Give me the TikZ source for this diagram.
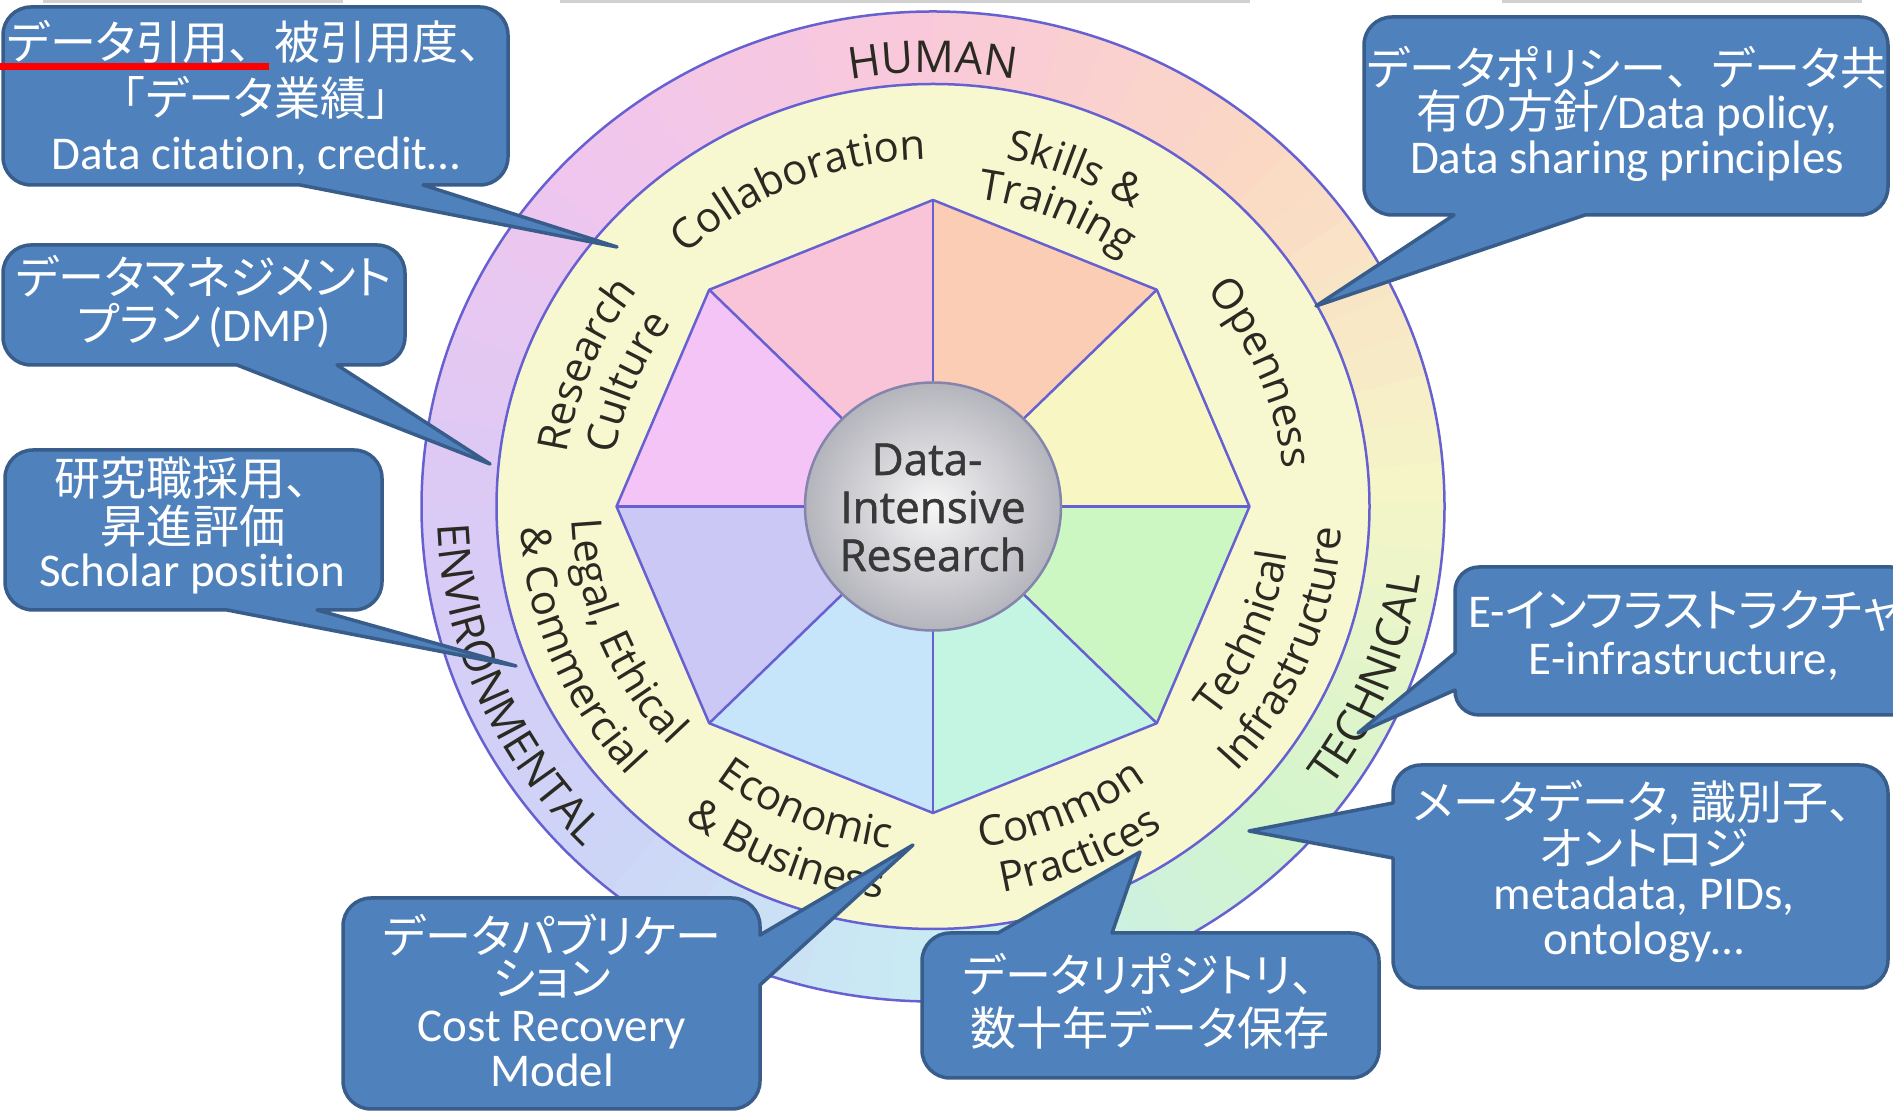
\documentclass[tikz,border=0pt]{standalone}
\usepackage{fontspec}
\setmainfont{Carlito}[Ligatures=NoCommon]
\newfontfamily\jp{Noto Sans CJK JP}[RawFeature=+palt,Scale=0.98]
\newfontfamily\jpf{Noto Sans CJK JP}[Scale=0.98]
\newfontfamily\ringfont{Open Sans}
\newfontfamily\ctrfont{Open Sans}[FakeBold=1.2]
\usetikzlibrary{decorations.text}

\definecolor{boxfill}{HTML}{4F81BD}
\definecolor{boxline}{HTML}{385D8A}
\definecolor{wheelline}{HTML}{6660D0}
\definecolor{band}{HTML}{F8F8D0}
\definecolor{labelcol}{HTML}{2A2A22}
\definecolor{ctrtext}{HTML}{383838}
\definecolor{ccin}{HTML}{F7F7F7}
\definecolor{ccout}{HTML}{B4B4BC}
\definecolor{ccrim}{HTML}{8484AC}
% outer ring colours, every 45 degrees starting at 0
\definecolor{ra}{HTML}{F6F5C8}
\definecolor{rb}{HTML}{FAD8C4}
\definecolor{rc}{HTML}{F9C8DA}
\definecolor{rd}{HTML}{F0C6EE}
\definecolor{re}{HTML}{D9CAF6}
\definecolor{rf}{HTML}{CDD5F7}
\definecolor{rg}{HTML}{C9EDF3}
\definecolor{rh}{HTML}{D2F5CC}
% octagon sectors, counter-clockwise from 0 degrees
\definecolor{sa}{HTML}{F8F7C4}
\definecolor{sb}{HTML}{FBCDB4}
\definecolor{sc}{HTML}{F9C4D8}
\definecolor{sd}{HTML}{F4C4F6}
\definecolor{se}{HTML}{CCC8F5}
\definecolor{sf}{HTML}{C6E4FA}
\definecolor{sg}{HTML}{C4F5E2}
\definecolor{sh}{HTML}{CCF7C2}

\newcommand\lblfont{\fontsize{42}{42}\ringfont\color{labelcol}}
\newcommand\capfont{\fontsize{44}{44}\ringfont\color{labelcol}}

% curved label, letters upright away from the centre (clockwise arc)
\newcommand\ringtop[3]{%
  \pgfmathsetmacro\lblrx{1.033*#2}%
  \pgfmathsetmacro\lblsa{#1+40}%
  \pgfmathsetmacro\lblea{#1-40}%
  \path[decorate,decoration={text along path,text align=center,text={#3}}]
    ({\lblsa}:{\lblrx} and {#2}) arc[start angle=\lblsa,end angle=\lblea,x radius=\lblrx,y radius=#2];}
% curved label, letters upright towards the centre (counter-clockwise arc)
\newcommand\ringbot[3]{%
  \pgfmathsetmacro\lblrx{1.033*#2}%
  \pgfmathsetmacro\lblsa{#1-40}%
  \pgfmathsetmacro\lblea{#1+40}%
  \path[decorate,decoration={text along path,text align=center,text={#3}}]
    ({\lblsa}:{\lblrx} and {#2}) arc[start angle=\lblsa,end angle=\lblea,x radius=\lblrx,y radius=#2];}

\begin{document}
\begin{tikzpicture}[x=1pt,y=1pt,
  callout/.style={fill=boxfill,draw=boxline,line width=3.5pt,line join=round},
  ctext/.style={text=white,font=\fontsize{47}{47}\selectfont,anchor=base,inner sep=0pt},
  wheel/.style={draw=wheelline,line width=2.5pt},
  ctrlbl/.style={text=ctrtext,font=\fontsize{44}{44}\ctrfont,anchor=base,inner sep=0pt},
  topline/.style={draw=black!18,line width=3pt},
  redmark/.style={draw=red,line width=7pt}]
\path[use as bounding box,clip] (0,0) rectangle (1893,1113);
\fill[white] (0,0) rectangle (1893,1113);

% ---------------- the wheel ----------------
\begin{scope}[shift={(933,606.5)}]
  \begin{scope}
    \clip (0,0) ellipse [x radius=511.5,y radius=495];
    \foreach \a/\ca/\cb in {0/ra/rb,45/rb/rc,90/rc/rd,135/rd/re,180/re/rf,225/rf/rg,270/rg/rh,315/rh/ra}{
      \foreach \i in {0,...,8}{
        \pgfmathsetmacro\mixp{100-\i*100/9}
        \pgfmathsetmacro\wa{\a+\i*5}
        \pgfmathsetmacro\wb{\a+\i*5+5.6}
        \fill[fill=\ca!\mixp!\cb] (0,0) -- (\wa:620) -- (\wb:620) -- cycle;
      }
    }
  \end{scope}
  \fill[band] (0,0) ellipse [x radius=436.5,y radius=422.5];
  \foreach \i/\c in {0/sa,1/sb,2/sc,3/sd,4/se,5/sf,6/sg,7/sh}
    \fill[fill=\c] (0,0) -- ({\i*45}:316.5 and 306.5) -- ({\i*45+45}:316.5 and 306.5) -- cycle;
  \foreach \i in {0,...,7}
    \draw[wheel] (0,0) -- ({\i*45}:316.5 and 306.5);
  \draw[wheel,line join=round] (0:316.5 and 306.5) -- (45:316.5 and 306.5) -- (90:316.5 and 306.5)
    -- (135:316.5 and 306.5) -- (180:316.5 and 306.5) -- (225:316.5 and 306.5)
    -- (270:316.5 and 306.5) -- (315:316.5 and 306.5) -- cycle;
  \draw[wheel] (0,0) ellipse [x radius=436.5,y radius=422.5];
  \draw[wheel] (0,0) ellipse [x radius=511.5,y radius=495];
  \shade[inner color=ccin,outer color=ccout] (0,0) ellipse [x radius=128,y radius=124];
  \draw[draw=ccrim,line width=2.5pt] (0,0) ellipse [x radius=128,y radius=124];

  \node[ctrlbl] (mid1) at (-6,31.5) {Data-};
  \node[ctrlbl] (mid2) at (0,-16.5) {Intensive};
  \node[ctrlbl] (mid3) at (0,-64.5) {Research};

  % outer ring headings
  \ringtop{90}{434}{|\capfont|HUMAN}
  \ringbot{-22}{477}{|\capfont|TECHNICAL}
  \ringbot{203.5}{480}{|\capfont|ENVIRONMENTAL}
  % band headings
  \ringtop{112.5}{347}{|\lblfont|Collaboration}
  \ringtop{67.5}{355}{|\lblfont|Skills {\&}}
  \ringtop{67.5}{311}{|\lblfont|Training}
  \ringtop{22.5}{341}{|\lblfont|Openness}
  \ringbot{-22.5}{346}{|\lblfont|Technical}
  \ringbot{-22.5}{396}{|\lblfont|Infrastructure}
  \ringbot{-67.5}{344}{|\lblfont|Common}
  \ringbot{-67.5}{392}{|\lblfont|Practices}
  \ringbot{-112.5}{344}{|\lblfont|Economic}
  \ringbot{-112.5}{395}{|\lblfont|{\&} Business}
  \ringbot{-157.5}{350}{|\lblfont|Legal, Ethical}
  \ringbot{-157.5}{400}{|\lblfont|{\&} Commercial}
  \ringtop{157.5}{358}{|\lblfont|Research}
  \ringtop{157.5}{312}{|\lblfont|Culture}
\end{scope}

% ---------------- callouts (y grows downwards here) ----------------
\begin{scope}[shift={(0,1113)},y=-1pt]
  \draw[topline] (43,1.5) -- (343,1.5);
  \draw[topline] (560,1.5) -- (1250,1.5);
  \draw[topline] (1502,1.5) -- (1862,1.5);

  \coordinate (tip1) at (617,247);
  \coordinate (tip2) at (1316,306);
  \coordinate (tip3) at (490,464);
  \coordinate (tip4) at (516,666);
  \coordinate (tip5) at (913,845);
  \coordinate (tip6) at (1140,852);
  \coordinate (tip7) at (1358,733);
  \coordinate (tip8) at (1249,831);

  % each outline: tip, first base point, the four rounded box corners, second base point
  \draw[callout] (tip1) -- (300,185) [rounded corners=28pt] -- (3,185) -- (3,7) -- (508,7)
    -- (508,185) [sharp corners] -- (423,185) -- cycle;
  \draw[callout] (tip2) -- (1454,215) [rounded corners=28pt] -- (1364,215) -- (1364,17) -- (1888,17)
    -- (1888,215) [sharp corners] -- (1585,215) -- cycle;
  \draw[callout] (tip3) -- (237,365) [rounded corners=28pt] -- (3,365) -- (3,245) -- (405,245)
    -- (405,365) [sharp corners] -- (337,365) -- cycle;
  \draw[callout] (tip4) -- (227,610) [rounded corners=28pt] -- (5,610) -- (5,450) -- (382,450)
    -- (382,610) [sharp corners] -- (317,610) -- cycle;
  \draw[callout] (tip5) -- (760,935) [rounded corners=28pt] -- (760,898) -- (343,898) -- (343,1109)
    -- (760,1109) [sharp corners] -- (760,985) -- cycle;
  \draw[callout] (tip6) -- (1112,933) [rounded corners=28pt] -- (1379,933) -- (1379,1078) -- (922,1078)
    -- (922,933) [sharp corners] -- (998,933) -- cycle;
  \draw[callout] (tip7) -- (1455,690) [rounded corners=24pt] -- (1455,715) -- (1915,715) -- (1915,567)
    -- (1455,567) [sharp corners] -- (1455,653) -- cycle;
  \draw[callout] (tip8) -- (1393,803) [rounded corners=28pt] -- (1393,765) -- (1888,765) -- (1888,988)
    -- (1393,988) [sharp corners] -- (1393,858) -- cycle;

  \node[ctext] (c1a) at (256,60) {{\jp データ引用}{\jpf 、}{\jp 被引用度}{\jpf 、}};
  \node[ctext] (c1b) at (256,116) {{\jpf 「}{\jp データ業績}{\jpf 」}};
  \node[ctext] (c1c) at (256,170) {Data citation, credit…};

  \node[ctext] (c2a) at (1627,86) {{\jp データポリシー}{\jpf 、}{\jp データ共}};
  \node[ctext] (c2b) at (1627,129) {{\jp 有の方針}/Data policy,};
  \node[ctext] (c2c) at (1627,174) {Data sharing principles};

  \node[ctext] (c3a) at (204,295) {{\jp データマネジメント}};
  \node[ctext] (c3b) at (204,342) {{\jp プラン}\,(DMP)};

  \node[ctext] (c4a) at (193,496) {{\jp 研究職採用}{\jpf 、}};
  \node[ctext] (c4b) at (193,544) {{\jp 昇進評価}};
  \node[ctext] (c4c) at (192,587) {Scholar position};

  \node[ctext] (c5a) at (552,954) {{\jp データパブリケー}};
  \node[ctext] (c5b) at (552,996) {{\jp ション}};
  \node[ctext] (c5c) at (552,1042) {Cost Recovery};
  \node[ctext] (c5d) at (552,1087) {Model};

  \node[ctext] (c6a) at (1150,993) {{\jp データリポジトリ}{\jpf 、}};
  \node[ctext] (c6b) at (1150,1046) {{\jp 数十年データ保存}};

  \node[ctext] (c7a) at (1684,628) {E-{\jp インフラストラクチャ}};
  \node[ctext] (c7b) at (1684,675) {E-infrastructure,};

  \node[ctext] (c8a) at (1644,820) {{\jp メータデータ}, {\jp 識別子}{\jpf 、}};
  \node[ctext] (c8b) at (1644,866) {{\jp オントロジ}};
  \node[ctext] (c8c) at (1644,910) {metadata, PIDs,};
  \node[ctext] (c8d) at (1644,955) {ontology…};

  \draw[redmark] (0,67) -- (269,67);
\end{scope}
\end{tikzpicture}
\end{document}
